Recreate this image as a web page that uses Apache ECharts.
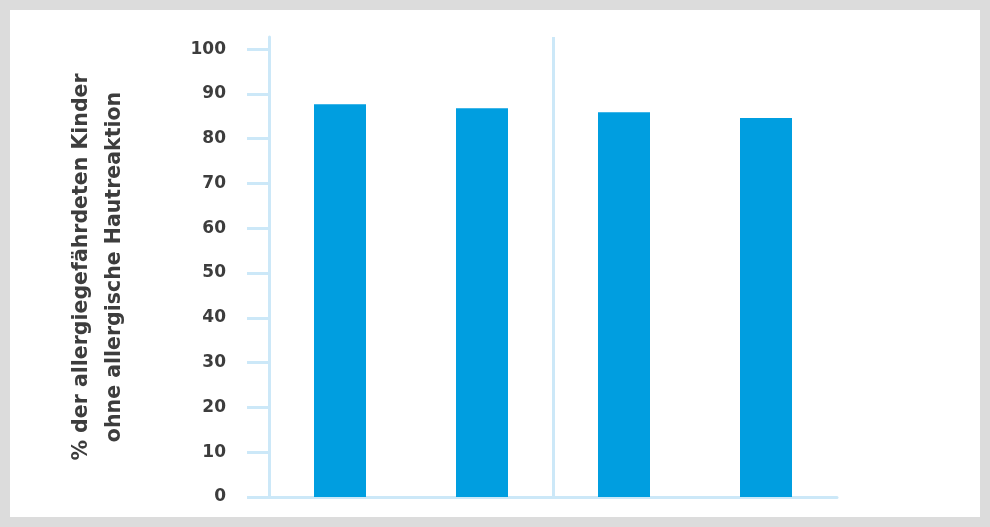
<!doctype html>
<html>
<head>
<meta charset="utf-8" />
<script src="https://cdn.jsdelivr.net/npm/echarts@6/dist/echarts.min.js"></script>
<style>
  html, body { margin: 0; padding: 0; background: #dcdcdc; }
  #chart { position: absolute; left: 10px; top: 10px; width: 970px; height: 507px; background: #fff; }
</style>
</head>
<body>
<div id="chart"></div>
<script>
// four groups, no visible category labels in the source
const categories = ['1', '2', '3', '4'];
const values = [87.7, 86.8, 85.9, 84.6];
const yTicks = [0, 10, 20, 30, 40, 50, 60, 70, 80, 90, 100];
const dividerAt = [2]; // boundary between the two pairs of bars
const yTitle = '% der allergiegefährdeten Kinder\nohne allergische Hautreaktion';

const axisBlue = '#cce8f8';
const textGrey = '#3d3d3d';

const chart = echarts.init(document.getElementById('chart'));
chart.setOption({
    animation: false,
    grid: { left: 259, right: 143, top: 27, bottom: 20 },
    xAxis: [{
        type: 'category',
        data: categories,
        axisLine: { lineStyle: { color: axisBlue, width: 3 } },
        axisTick: { show: false },
        axisLabel: { show: false },
        splitLine: { show: false },
    }, {
        // helper axis only used for the vertical divider
        type: 'value',
        min: 0,
        max: categories.length,
        axisLine: { show: false },
        axisLabel: { show: false },
        axisTick: { show: false, customValues: dividerAt },
        splitLine: { show: true, lineStyle: { color: axisBlue, width: 3 } },
    }],
    yAxis: {
        type: 'value',
        min: 0,
        max: 102.7,
        interval: 10,
        name: yTitle,
        nameLocation: 'middle',
        nameRotate: 90,
        nameGap: 138,
        nameTextStyle: {
            fontFamily: 'DejaVu Sans',
            fontWeight: 'bold',
            fontSize: 20.5,
            lineHeight: 33,
            color: textGrey,
        },
        axisLine: { show: true, lineStyle: { color: axisBlue, width: 3 } },
        axisTick: {
            show: true,
            length: 22,
            customValues: yTicks,
            lineStyle: { color: axisBlue, width: 3 },
        },
        axisLabel: {
            customValues: yTicks,
            margin: 43,
            fontFamily: 'DejaVu Sans',
            fontWeight: 'bold',
            fontSize: 17,
            color: textGrey,
        },
        splitLine: { show: false },
    },
    series: [{
        type: 'bar',
        data: values,
        barWidth: 52,
        itemStyle: { color: '#009ee0' },
    }],
});
</script>
</body>
</html>
